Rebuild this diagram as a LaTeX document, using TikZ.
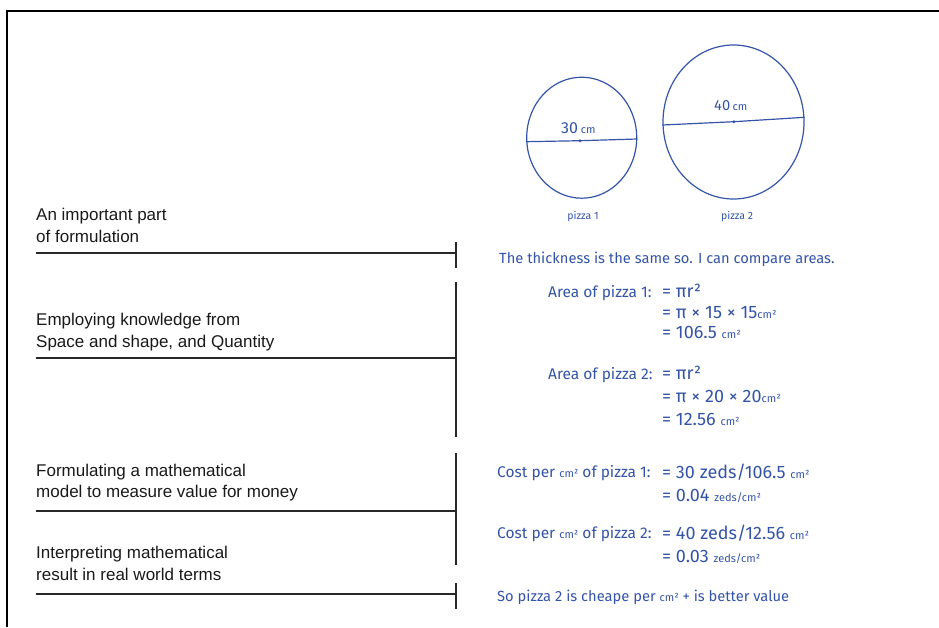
\documentclass[tikz,border=0pt]{standalone}
\usepackage{fontspec}
\setmainfont{Liberation Sans}
\newfontfamily\labelfont{Liberation Sans}
\newfontfamily\handfont{Fira Sans}
\usetikzlibrary{calc,shapes.geometric}
\definecolor{ink}{RGB}{52,84,168}
\definecolor{rulegray}{RGB}{40,40,40}
\newcommand{\unitsm}[1]{{\fontsize{11}{11}\selectfont #1}}
\tikzset{
  stage/.style={anchor=base west, inner sep=0pt,
    font=\labelfont\fontsize{17}{21}\selectfont, text=black!90},
  hand/.style={anchor=base west, inner sep=0pt,
    font=\handfont\fontsize{14.7}{16}\selectfont, text=ink},
  handmid/.style={anchor=base west, inner sep=0pt,
    font=\handfont\fontsize{15.5}{17}\selectfont, text=ink},
  handbig/.style={anchor=base west, inner sep=0pt,
    font=\handfont\fontsize{18}{20}\selectfont, text=ink},
  handsmall/.style={anchor=base, inner sep=0pt,
    font=\handfont\fontsize{10.5}{12}\selectfont, text=ink},
  bracket/.style={draw=rulegray, line width=1.3pt},
  pizzashape/.style={ellipse, draw=ink, line width=1.2pt, inner sep=0pt},
  diam/.style={draw=ink, line width=1.2pt},
}
\begin{document}
\begin{tikzpicture}[x=1pt,y=-1pt]
\useasboundingbox (0,0) rectangle (939,627);

% page frame
\draw[line width=2.2pt, black] (7,627) -- (7,11) -- (939,11);

% pizzas
\node[pizzashape, minimum width=110pt, minimum height=121pt] (p1) at (581.7,137.7) {};
\node[pizzashape, minimum width=141pt, minimum height=154pt] (p2) at (733.5,122) {};
\coordinate (c1) at (580,140.7);
\coordinate (c2) at (734,121.7);
\draw[diam] ($(p1.west)+(0,4)$) -- (c1) -- ($(p1.east)+(0,1.3)$);
\draw[diam] ($(p2.west)+(0,3)$) -- (c2) -- ($(p2.east)+(0,-4.7)$);
\fill[ink] (c1) circle (1.6pt);
\fill[ink] (c2) circle (1.6pt);
\node[handbig, font=\handfont\fontsize{16}{18}\selectfont] (d1) at (561,133) {30\,\unitsm{cm}};
\node[hand] (d2) at (714,110) {40\,\unitsm{cm}};
\node[handsmall] (n1) at (583,219) {pizza 1};
\node[handsmall] (n2) at (737,219) {pizza 2};

% stage labels
\node[stage] (l1a) at (36,220) {An important part};
\node[stage] (l1b) at (36,242) {of formulation};
\node[stage] (l2a) at (36,325) {Employing knowledge from};
\node[stage] (l2b) at (36,347) {Space and shape, and Quantity};
\node[stage] (l3a) at (36,476) {Formulating a mathematical};
\node[stage] (l3b) at (36,497) {model to measure value for money};
\node[stage] (l4a) at (36,558) {Interpreting mathematical};
\node[stage] (l4b) at (36,580) {result in real world terms};

% brackets
\coordinate (b1l) at (36,253);  \coordinate (b1r) at (456,253);
\coordinate (t1a) at (456,242); \coordinate (t1b) at (456,268);
\coordinate (v1a) at (456,282); \coordinate (v1b) at (456,437);
\coordinate (b2l) at (36,358);  \coordinate (b2r) at (456,358);
\coordinate (v2a) at (456,453); \coordinate (v2b) at (456,565);
\coordinate (b3l) at (36,511);  \coordinate (b3r) at (456,511);
\coordinate (b4l) at (36,594);  \coordinate (b4r) at (456,594);
\coordinate (t4a) at (456,583); \coordinate (t4b) at (456,609);
\draw[bracket] (b1l) -- (b1r);
\draw[bracket] (t1a) -- (t1b);
\draw[bracket] (v1a) -- (v1b);
\draw[bracket] (b2l) -- (b2r);
\draw[bracket] (v2a) -- (v2b);
\draw[bracket] (b3l) -- (b3r);
\draw[bracket] (b4l) -- (b4r);
\draw[bracket] (t4a) -- (t4b);

% worked solution
\node[hand] (s0) at (499,263) {The thickness is the same so. I can compare areas.};
\node[handmid] (a1) at (548,297) {Area of pizza 1:};
\node[handbig] (a1r) at (662,297) {= πr²};
\node[handbig] (a1s) at (662,318) {= π × 15 × 15\unitsm{cm²}};
\node[handbig] (a1t) at (662,338) {= 106.5 \unitsm{cm²}};
\node[handmid] (a2) at (548,379) {Area of pizza 2:};
\node[handbig] (a2r) at (662,379) {= πr²};
\node[handbig] (a2s) at (662,402) {= π × 20 × 20\unitsm{cm²}};
\node[handbig] (a2t) at (662,425) {= 12.56 \unitsm{cm²}};
\node[handmid] (k1) at (497,477) {Cost per \unitsm{cm²} of pizza 1:};
\node[handbig] (k1r) at (662,478) {= 30 zeds/106.5 \unitsm{cm²}};
\node[handbig] (k1s) at (662,501) {= 0.04 \unitsm{zeds/cm²}};
\node[handmid] (k2) at (497,538) {Cost per \unitsm{cm²} of pizza 2:};
\node[handbig] (k2r) at (662,539) {= 40 zeds/12.56 \unitsm{cm²}};
\node[handbig] (k2s) at (662,562) {= 0.03 \unitsm{zeds/cm²}};
\node[hand] (fin) at (497,601) {So pizza 2 is cheape per \unitsm{cm²} + is better value};
\end{tikzpicture}
\end{document}
